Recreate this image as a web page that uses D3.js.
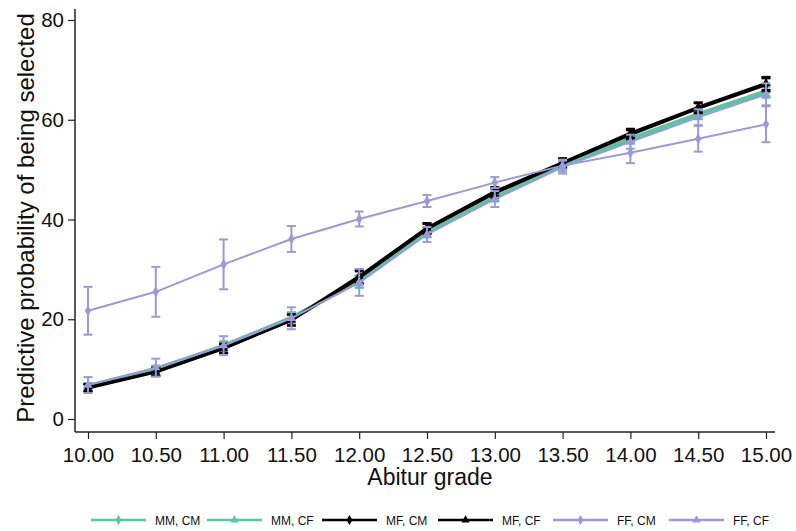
<!DOCTYPE html>
<html>
<head>
<meta charset="utf-8">
<script src="https://cdnjs.cloudflare.com/ajax/libs/d3/7.8.5/d3.min.js"></script>
<style>
  html, body { margin: 0; padding: 0; background: #fff; }
  svg { display: block; font-family: "Liberation Sans", Arial, sans-serif; }
</style>
</head>
<body>
<svg id="chart" width="796" height="531"></svg>
<script>
// ---- data ----
const grades = [10, 10.5, 11, 11.5, 12, 12.5, 13, 13.5, 14, 14.5, 15];
const xTickLabels = ["10.00","10.50","11.00","11.50","12.00","12.50","13.00","13.50","14.00","14.50","15.00"];
const yTicks = [0, 20, 40, 60, 80];

const seriesNames = ["MM, CM", "MM, CF", "MF, CM", "MF, CF", "FF, CM", "FF, CF"];

const mmCM = [6.7, 10.0, 14.8, 20.3, 27.5, 37.3, 44.4, 50.8, 56.0, 61.0, 65.5];
const mmCF = [6.6, 10.1, 14.6, 20.4, 27.6, 37.5, 44.5, 50.9, 56.3, 61.2, 65.8];
const mfCM = [6.3, 9.5, 14.2, 19.8, 28.3, 38.1, 45.3, 51.3, 57.0, 62.3, 67.0];
const mfCF = [6.2, 9.4, 14.1, 19.9, 28.6, 38.3, 45.6, 51.4, 57.3, 62.5, 67.3];
const ffCM = [21.7, 25.5, 31.0, 36.1, 40.1, 43.7, 47.4, 50.8, 53.4, 56.2, 59.1];
const ffCF = [6.8, 10.3, 14.7, 20.2, 27.4, 37.0, 44.1, 50.5, 55.6, 60.5, 65.1];

// confidence interval half-widths
const mmCMci = [0.5, 0.6, 0.8, 1.0, 1.2, 0.9, 0.8, 0.8, 0.8, 0.9, 1.1];
const mmCFci = [0.5, 0.6, 0.8, 1.0, 1.2, 0.9, 0.8, 0.8, 0.8, 0.9, 1.1];
const mfCMci = [0.7, 0.8, 0.9, 1.1, 1.3, 1.0, 0.9, 0.9, 0.9, 1.0, 1.3];
const mfCFci = [0.7, 0.8, 0.9, 1.1, 1.3, 1.0, 0.9, 0.9, 0.9, 1.0, 1.3];
const ffCMci = [4.8, 5.0, 5.0, 2.6, 1.5, 1.2, 1.1, 1.2, 2.1, 2.6, 3.6];
const ffCFci = [1.6, 1.8, 1.9, 2.2, 2.7, 1.5, 1.6, 1.3, 1.4, 1.6, 2.2];

const seriesValues = [mmCM, mmCF, mfCM, mfCF, ffCM, ffCF];
const seriesCI = [mmCMci, mmCFci, mfCMci, mfCFci, ffCMci, ffCFci];

// ---- styles ----
const green = "#5cc4a3", black = "#000000", purple = "#9b99d8";
const styles = [
  {color: green, width: 3.2, symbol: d3.symbolDiamond},
  {color: green, width: 3.2, symbol: d3.symbolTriangle},
  {color: black, width: 3, symbol: d3.symbolDiamond},
  {color: black, width: 3, symbol: d3.symbolTriangle},
  {color: purple, width: 2, symbol: d3.symbolDiamond},
  {color: purple, width: 2, symbol: d3.symbolTriangle}
];

const svg = d3.select("#chart");

const x = d3.scaleLinear().domain([10, 15]).range([88, 766]);
const y = d3.scaleLinear().domain([0, 80]).range([419, 20]);

const axisX0 = 75, axisY0 = 432;

// axes lines
svg.append("line").attr("x1", axisX0).attr("x2", axisX0).attr("y1", 9).attr("y2", axisY0)
  .attr("stroke", "#222").attr("stroke-width", 1.5);
svg.append("line").attr("x1", axisX0).attr("x2", 775).attr("y1", axisY0).attr("y2", axisY0)
  .attr("stroke", "#222").attr("stroke-width", 1.5);

// y axis
const yAxis = d3.axisLeft(y).tickValues(yTicks).tickSize(7).tickPadding(4).tickFormat(d3.format("d"));
const gy = svg.append("g").attr("transform", `translate(${axisX0},0)`).call(yAxis);
gy.select(".domain").remove();
gy.selectAll(".tick line").attr("stroke", "#222").attr("stroke-width", 1.2);
gy.selectAll(".tick text").attr("font-size", 20.5).attr("fill", "#111")
  .attr("font-family", "'Liberation Sans', Arial, sans-serif");

// x axis
const xAxis = d3.axisBottom(x).tickValues(grades).tickSize(7).tickPadding(8)
  .tickFormat((d, i) => xTickLabels[i]);
const gx = svg.append("g").attr("transform", `translate(0,${axisY0})`).call(xAxis);
gx.select(".domain").remove();
gx.selectAll(".tick line").attr("stroke", "#222").attr("stroke-width", 1.2);
gx.selectAll(".tick text").attr("font-size", 20.5).attr("fill", "#111")
  .attr("font-family", "'Liberation Sans', Arial, sans-serif");

// axis titles
svg.append("text").attr("x", 430).attr("y", 485).attr("text-anchor", "middle")
  .attr("font-size", 23).attr("fill", "#111").text("Abitur grade");
svg.append("text").attr("transform", "translate(34,218) rotate(-90)").attr("text-anchor", "middle")
  .attr("font-size", 24).attr("fill", "#111").text("Predictive probability of being selected");

// series
const line = d3.line().x((d, i) => x(grades[i])).y(d => y(d));
seriesValues.forEach((vals, s) => {
  const st = styles[s];
  const g = svg.append("g");
  g.append("path").datum(vals).attr("d", line).attr("fill", "none")
    .attr("stroke", st.color).attr("stroke-width", st.width).attr("stroke-linejoin", "round");
  const ci = seriesCI[s];
  const capW = 4.5;
  vals.forEach((v, i) => {
    const cx = x(grades[i]);
    const lo = y(v - ci[i]), hi = y(v + ci[i]);
    g.append("line").attr("x1", cx).attr("x2", cx).attr("y1", lo).attr("y2", hi)
      .attr("stroke", st.color).attr("stroke-width", 2);
    g.append("line").attr("x1", cx - capW).attr("x2", cx + capW).attr("y1", lo).attr("y2", lo)
      .attr("stroke", st.color).attr("stroke-width", 2);
    g.append("line").attr("x1", cx - capW).attr("x2", cx + capW).attr("y1", hi).attr("y2", hi)
      .attr("stroke", st.color).attr("stroke-width", 2);
  });
  g.selectAll("path.m").data(vals).enter().append("path").attr("class", "m")
    .attr("transform", (d, i) => `translate(${x(grades[i])},${y(d)})`)
    .attr("d", d3.symbol().type(st.symbol).size(36))
    .attr("fill", st.color);
});

// legend
const legX = [91, 207, 322, 438, 553, 669];
const legY = 520;
seriesNames.forEach((name, s) => {
  const st = styles[s];
  const lx = legX[s];
  svg.append("line").attr("x1", lx).attr("x2", lx + 55).attr("y1", legY).attr("y2", legY)
    .attr("stroke", st.color).attr("stroke-width", 2.5);
  svg.append("path").attr("transform", `translate(${lx + 27.5},${legY})`)
    .attr("d", d3.symbol().type(st.symbol).size(30)).attr("fill", st.color);
  svg.append("text").attr("x", lx + 64).attr("y", legY + 4.5)
    .attr("font-size", 12).attr("fill", "#111")
    .attr("font-family", "'Liberation Sans Narrow', 'Arial Narrow', 'Liberation Sans', sans-serif")
    .text(name);
});
</script>
</body>
</html>
